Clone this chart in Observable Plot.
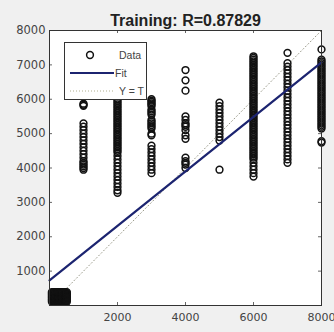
<!DOCTYPE html>
<html>
<head>
<meta charset="utf-8">
<script src="https://cdn.jsdelivr.net/npm/d3@7"></script>
<script src="https://cdn.jsdelivr.net/npm/@observablehq/plot@0.6"></script>
<style>
  html, body { margin: 0; padding: 0; background: #f0f0f0; }
  #wrap { position: relative; width: 334px; height: 332px; overflow: hidden; }
  #legend { position: absolute; left: 64px; top: 42px; }
</style>
</head>
<body>
<div id="wrap"></div>
<script>
const titleText = "Training: R=0.87829";
const xTicks = [2000, 4000, 6000, 8000];
const yTicks = [1000, 2000, 3000, 4000, 5000, 6000, 7000, 8000];

// blob near origin: grid of target values and output values (all combinations)
const blobTargets = [70,110,150,190,230,270,310,350,390,430,470,510];
const blobOutputs = [110,150,190,230,270,310,350,390];

const out1000 = [5870,5840,5810,5300,5200,5100,5000,4900,4800,4700,4600,4500,4400,4300,4200,4150,4100,4050,4000,3950];
const out2000 = [6000,5950,5900,5850,5800,5750,5700,5650,5600,5550,5500,5450,5400,5350,5300,5250,5200,5150,5100,5050,5000,4950,4900,4850,4800,4750,4700,4650,4600,4550,4500,4450,4350,4250,4150,4050,3950,3850,3750,3650,3550,3450,3350,3280];
const out3000 = [6000,5960,5920,5880,5840,5800,5700,5650,5600,5550,5400,5350,5300,5250,5200,5150,5000,4950,4650,4550,4450,4350,4250,4150,4050,3950,3850];
const out4000 = [6850,6550,6250,5500,5400,5300,5250,5200,5100,4950,4850,4300,4200,4150,4100,4000];
const out5000 = [5900,5800,5700,5600,5500,5400,5300,5200,5100,5000,4900,4800,3950];
const out6000 = [7250,7200,7150,7100,7050,7000,6950,6900,6850,6800,6750,6700,6650,6600,6550,6500,6450,6400,6350,6300,6250,6200,6150,6100,6050,6000,5950,5900,5850,5800,5750,5700,5650,5600,5550,5500,5450,5400,5350,5300,5250,5200,5150,5100,5050,5000,4950,4900,4850,4800,4750,4700,4650,4600,4550,4500,4450,4400,4350,4300,4250,4150,4050,3950,3850,3750];
const out7000 = [7350,7050,6950,6850,6750,6650,6550,6450,6350,6250,6150,6050,5950,5850,5750,5650,5550,5450,5350,5250,5150,5050,4950,4850,4750,4650,4550,4450,4350,4250,4150];
const out8000 = [7450,7150,7100,7050,7000,6950,6900,6850,6800,6750,6700,6650,6600,6550,6500,6450,6400,6350,6300,6250,6200,6150,6100,6050,6000,5950,5900,5850,5800,5750,5700,5650,5600,5550,5500,5450,5400,5350,5300,5250,5200,5150,4780,4740];

const fitT = [0, 8000];
const fitO = [730, 7070];
const idT = [0, 8000];

const columns = [[1000,out1000],[2000,out2000],[3000,out3000],[4000,out4000],[5000,out5000],[6000,out6000],[7000,out7000],[8000,out8000]];
const points = [];
blobTargets.forEach(t => blobOutputs.forEach(o => points.push({t, o})));
columns.forEach(([t, arr]) => arr.forEach(o => points.push({t, o})));
const fit = fitT.map((t, i) => ({t, o: fitO[i]}));
const ident = idT.map(t => ({t, o: t}));

const W = 334, H = 332;
const mL = 49, mR = 13, mT = 30, mB = 27;
const fw = W - mL - mR, fh = H - mT - mB;
const font = "DejaVu Sans, sans-serif";
const lfont = "Liberation Sans, Arial, sans-serif";

const chart = Plot.plot({
  width: W, height: H,
  marginLeft: mL, marginRight: mR, marginTop: mT, marginBottom: mB,
  style: { background: "transparent", fontFamily: font, overflow: "visible" },
  x: { domain: [0, 8000] },
  y: { domain: [0, 8000] },
  marks: [
    Plot.frame({ fill: "white" }),
    Plot.axisX({ ticks: xTicks, tickSize: 0, tickPadding: 8, label: null, fontSize: 11, fill: "#444", tickFormat: d => String(d) }),
    Plot.axisY({ ticks: yTicks, tickSize: 0, tickPadding: 4, label: null, fontSize: 11.5, fill: "#444", tickFormat: d => String(d) }),
    Plot.tickY(yTicks, { y: d => d, insetRight: fw - 3, stroke: "#666" }),
    Plot.tickY(yTicks, { y: d => d, insetLeft: fw - 3, stroke: "#666" }),
    Plot.tickX(xTicks, { x: d => d, insetTop: fh - 3, stroke: "#666" }),
    Plot.tickX(xTicks, { x: d => d, insetBottom: fh - 3, stroke: "#666" }),
    Plot.line(ident, { x: "t", y: "o", stroke: "#9a9a8a", strokeWidth: 1, strokeDasharray: "1,2.5" }),
    Plot.dot(points, { x: "t", y: "o", r: 3.4, stroke: "#111", strokeWidth: 1.5, fill: "none" }),
    Plot.line(fit, { x: "t", y: "o", stroke: "#1c2470", strokeWidth: 2.2 }),
    Plot.frame({ stroke: "#333", strokeWidth: 1 }),
    Plot.text([titleText], { frameAnchor: "top", dy: -16, fontSize: 16, fontWeight: "bold", fill: "#222", fontFamily: lfont })
  ]
});
document.getElementById("wrap").appendChild(chart);

// legend
const ns = "http://www.w3.org/2000/svg";
const lg = document.createElementNS(ns, "svg");
lg.setAttribute("id", "legend");
lg.setAttribute("width", 84);
lg.setAttribute("height", 60);
lg.innerHTML = `
  <rect x="0.5" y="0.5" width="82" height="57" fill="white" stroke="#333" stroke-width="1"/>
  <circle cx="26" cy="13" r="3.4" fill="none" stroke="#111" stroke-width="1.5"/>
  <text x="55" y="13" dy="0.35em" font-family="${lfont}" font-size="10.5" fill="#444">Data</text>
  <line x1="6" y1="31" x2="50" y2="31" stroke="#1c2470" stroke-width="2.2"/>
  <text x="51" y="31" dy="0.35em" font-family="${lfont}" font-size="10.5" fill="#444">Fit</text>
  <line x1="6" y1="49" x2="50" y2="49" stroke="#b0b090" stroke-width="1" stroke-dasharray="1,2"/>
  <text x="55" y="49" dy="0.35em" font-family="${lfont}" font-size="10.5" fill="#444">Y = T</text>
`;
document.getElementById("wrap").appendChild(lg);
</script>
</body>
</html>
